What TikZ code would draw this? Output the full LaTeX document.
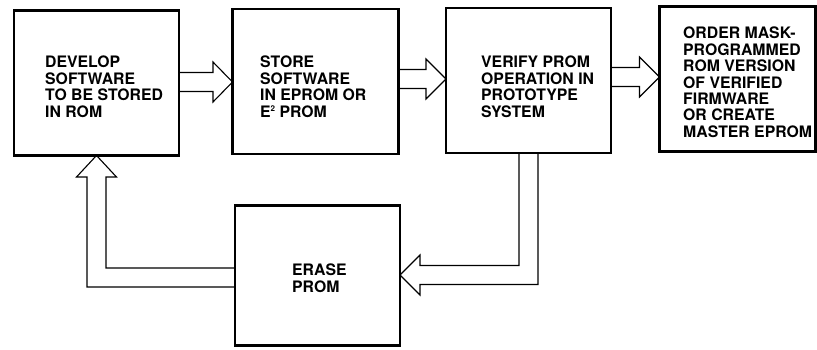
\documentclass[tikz,border=0pt]{standalone}
\usepackage{fontspec}
\setmainfont{TeX Gyre Heros}
\usepackage{tikz}
\usetikzlibrary{calc}

\tikzset{
  stage/.style={draw, line width=2.8pt, outer sep=0pt, minimum width=165pt, minimum height=145pt},
  stagetext/.style={anchor=north west, inner sep=0pt, align=left, font=\fontsize{15.8}{16.4}\selectfont\bfseries},
  hollow/.style={draw, line width=1.1pt, line join=miter}
}

\begin{document}
\begin{tikzpicture}[x=1pt,y=1pt,yscale=-1,xscale=1]

\useasboundingbox (0,0) rectangle (817,350);

% the five stages
\node[stage] (dev) at (96.5, 83) {};
\node[stage, minimum width=166pt] (store) at (315.5, 81.5) {};
\node[stage] (verify) at (528.5, 80.5) {};
\node[stage, minimum width=156pt] (order) at (737.5, 79) {};
\node[stage, minimum height=140pt] (erase) at (317.5, 275.5) {};

\node[stagetext] (devtext) at (45, 56) {DEVELOP\\SOFTWARE\\TO BE STORED\\IN ROM};
\node[stagetext] (storetext) at (260, 56) {STORE\\SOFTWARE\\IN EPROM OR\\E\raisebox{5.5pt}{\fontsize{8}{8}\selectfont 2} PROM};
\node[stagetext] (verifytext) at (481, 56) {VERIFY PROM\\OPERATION IN\\PROTOTYPE\\SYSTEM};
\node[stagetext] (ordertext) at (683, 27) {ORDER MASK-\\PROGRAMMED\\ROM VERSION\\OF VERIFIED\\FIRMWARE\\OR CREATE\\MASTER EPROM};
\node[stagetext] (erasetext) at (292, 264) {ERASE\\PROM};

% forward arrows
\draw[hollow] (dev.east |- 0,72.5) -- (213,72.5) -- (213,62) -- (store.west |- 0,82) -- (213,102) -- (213,91.5) -- (dev.east |- 0,91.5);
\draw[hollow] (store.east |- 0,69.5) -- (426,69.5) -- (426,59) -- (verify.west |- 0,79) -- (426,99) -- (426,88.5) -- (store.east |- 0,88.5);
\draw[hollow] (verify.east |- 0,67.5) -- (639.5,67.5) -- (639.5,57) -- (order.west |- 0,77) -- (639.5,97) -- (639.5,86.5) -- (verify.east |- 0,86.5);

% feedback loop
\draw[hollow] (519,0 |- verify.south) -- (519,265.5) -- (420,265.5) -- (420,255) -- (erase.east |- 0,275) -- (420,295) -- (420,284.5) -- (538,284.5) -- (538,0 |- verify.south);
\draw[hollow] (erase.west |- 0,268) -- (106,268) -- (106,177) -- (116.5,177) -- (dev.south) -- (76.5,177) -- (87,177) -- (87,287) -- (erase.west |- 0,287);

\end{tikzpicture}
\end{document}
